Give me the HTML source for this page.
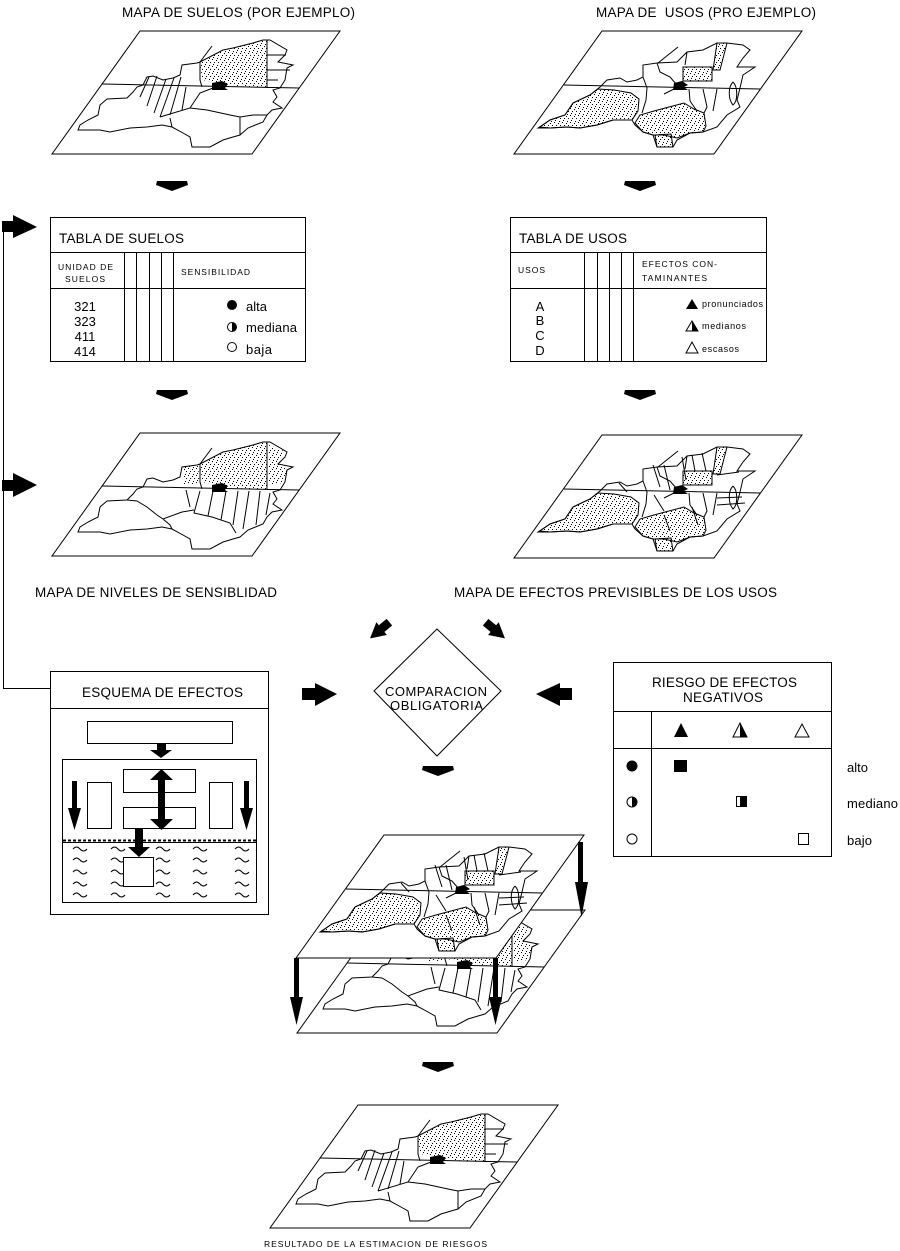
<!DOCTYPE html>
<html><head><meta charset="utf-8">
<style>
html,body{margin:0;padding:0;background:#fff;}
svg{display:block;}
text{font-family:"Liberation Sans",Arial,sans-serif;fill:#000;}
</style></head><body>
<svg width="900" height="1251" viewBox="0 0 900 1251" xmlns="http://www.w3.org/2000/svg" xmlns:xlink="http://www.w3.org/1999/xlink">
<defs>
<pattern id="dots" width="8" height="7" patternUnits="userSpaceOnUse">
 <rect x="0" y="0" width="1" height="1"/>
 <rect x="4" y="1" width="1" height="1"/>
 <rect x="2" y="3" width="1" height="1"/>
 <rect x="6" y="3" width="1" height="1"/>
 <rect x="1" y="5" width="1" height="1"/>
 <rect x="5" y="6" width="1" height="1"/>
</pattern>

<g id="mapS">
 <polygon points="88,0 288,0 200,123 0,123" fill="#fff" stroke="#000"/>
 <path d="M26,99 L28,94 36,89 46,84 48,74 55,68 75,67 81,61 85,56 91,54 95,46 101,45 111,49 121,47 128,44 130,34 145,32 148,31 171,19 181,17 201,12 211,9 218,9 235,19 233,24 226,31 241,34 235,37 233,49 228,57 221,59 225,66 221,71 230,77 220,79 215,84 211,91 196,97 188,104 181,106 171,109 158,116 140,116 138,106 131,102 120,96 110,94 95,96 78,97 58,101 48,99 Z" fill="#fff" stroke="#000"/>
 <path d="M148,31 L171,19 181,17 201,12 211,9 215,9 215,57 200,56 185,55 175,53 162,51 150,49 Z" fill="url(#dots)"/>
 <path d="M50,53 L247,57 M160,15 L148,31 M148,31 L148,49 L150,56 M215,9 L215,57 M215,24 L234,24 M215,39 L238,39 M215,49 L226,49 M88,66 L97,46 M95,75 L105,45 M102,82 L114,48 M108,86 L122,47 M118,84 L129,46 M130,79 L134,56 M108,86 L138,77 L148,62 L161,57 M138,77 L155,79 L178,84 L188,86 L201,84 L215,84 M118,87 L120,96 M188,86 L188,104" fill="none" stroke="#000"/>
 <path d="M160,52 L170,50 L176,53 L173,57 L176,59 L160,59 Z"/>
</g>

<g id="mapB">
 <polygon points="88,0 288,0 200,123 0,123" fill="#fff" stroke="#000"/>
 <path d="M26,99 L28,94 36,89 46,84 48,74 55,68 75,67 81,61 85,56 91,54 95,46 101,45 111,49 121,47 128,44 130,34 145,32 148,31 171,19 181,17 201,12 211,9 218,9 235,19 233,24 226,31 241,34 235,37 233,49 228,57 221,59 225,66 221,71 230,77 220,79 215,84 211,91 196,97 188,104 181,106 171,109 158,116 140,116 138,106 131,102 120,96 110,94 95,96 78,97 58,101 48,99 Z" fill="#fff" stroke="#000"/>
 <path d="M148,31 L171,19 181,17 201,12 211,9 215,9 215,57 200,56 185,55 175,53 162,51 150,49 Z" fill="url(#dots)"/>
 <path d="M131,34 L146,32 L148,52 L132,52 Z" fill="url(#dots)"/>
 <path d="M217,12 L232,18 L228,30 L236,36 L231,50 L217,52 Z" fill="url(#dots)"/>
 <path d="M50,53 L247,57 M160,15 L148,31 M148,31 L148,49 L150,56 M215,9 L215,57 M75,67 L85,68 L95,74 L105,82 L111,86 L130,79 L142,77 M134,57 L138,74 M111,86 L118,92 L120,96 M148,58 L142,80 L160,84 L178,90 L184,100 M161,58 L156,83 M174,58 L169,87 M186,58 L181,92 M197,58 L191,96 M208,58 L204,92 M218,60 L214,82" fill="none" stroke="#000"/>
 <path d="M160,52 L170,50 L176,53 L173,57 L176,59 L160,59 Z"/>
</g>

<g id="mapU">
 <polygon points="88,0 288,0 200,123 0,123" fill="#fff" stroke="#000"/>
 <path d="M24,97 L36,89 51,84 59,72 76,64 86,56 93,49 106,47 113,51 123,49 129,46 129,34 143,32 163,31 173,21 189,19 203,12 213,12 229,14 236,19 229,27 223,36 241,36 229,44 226,57 223,69 226,76 213,84 203,96 189,101 176,102 163,109 159,116 143,116 139,104 129,101 121,94 118,89 99,89 83,94 66,97 53,96 36,97 Z" fill="#fff" stroke="#000"/>
 <path d="M26,96 L36,89 51,84 59,72 76,64 84,58 100,59 117,62 125,68 124,80 118,89 99,89 83,94 66,97 53,96 36,97 Z" fill="url(#dots)" stroke="#000"/>
 <path d="M121,92 L126,84 140,80 155,76 170,72 180,78 190,82 192,95 189,101 176,102 163,107 150,104 139,104 129,101 Z" fill="url(#dots)" stroke="#000"/>
 <path d="M141,104 L157,103 L159,116 L143,116 Z" fill="url(#dots)" stroke="#000"/>
 <path d="M203,12 L213,12 L206,39 L199,39 Z" fill="url(#dots)" stroke="#000"/>
 <path d="M169,36 L198,36 L198,50 L169,50 Z" fill="url(#dots)" stroke="#000"/>
 <path d="M50,54 L246,58 M164,16 L144,32 M129,46 L133,57 L132,69 L128,82 M143,32 L146,41 L156,46 L163,54 M160,58 L150,63 M175,58 L176,70 L183,80 M189,58 L193,76 L190,82 M203,58 L201,69 L199,80 M219,51 C214,56 214,68 219,74 C224,70 224,56 219,51 M171,34 L173,21" fill="none" stroke="#000"/>
 <path d="M160,52 L168,50 L174,54 L170,56 L174,59 L159,59 Z"/>
</g>

<g id="mapE">
 <use xlink:href="#mapU" href="#mapU"/>
 <path d="M139,30 L146,52 M150,30 L156,55 M168,22 L172,45 M178,20 L181,36 M188,18 L192,36 M203,40 L225,37 M203,63 L228,62 M203,70 L231,68 M105,48 L113,57 M140,60 L150,76 M178,72 L184,90 M150,80 L156,96" fill="none" stroke="#000"/>
</g>

<g id="rarr">
 <rect x="-17" y="-6" width="15" height="12"/>
 <polygon points="-3,-11.5 18,0 -3,11.5"/>
</g>

<path id="wave" d="M0,0 q3.5,-4 7,0 t7,0" fill="none" stroke="#000"/>
</defs>

<rect width="900" height="1251" fill="#fff"/>

<!-- titles -->
<text x="122" y="17" font-size="13.5" textLength="233">MAPA DE SUELOS (POR EJEMPLO)</text>
<text x="596" y="17" font-size="13.5" textLength="220" style="white-space:pre">MAPA DE  USOS (PRO EJEMPLO)</text>

<!-- top maps -->
<use xlink:href="#mapS" href="#mapS" transform="translate(52,31)"/>
<use xlink:href="#mapU" href="#mapU" transform="translate(514,31)"/>

<!-- down arrows -->
<polygon points="157,181 187,181 188,185 172,191 156,185"/>
<polygon points="625,181 655,181 656,185 640,191 624,185"/>
<polygon points="157,390 187,390 188,394 172,400 156,394"/>
<polygon points="625,390 655,390 656,394 640,400 624,394"/>
<polygon points="423,766 453,766 454,770 438,776 422,770"/>
<polygon points="423,1062 453,1062 454,1066 438,1072 422,1066"/>

<!-- feedback line and arrows -->
<path d="M3.5,226 L3.5,688.5 L50,688.5" fill="none" stroke="#000"/>
<rect x="2" y="221" width="12" height="11"/>
<polygon points="13,215 37,227 13,238"/>
<rect x="2" y="480" width="12" height="11"/>
<polygon points="13,473 37,485 13,497"/>

<!-- Tabla de suelos -->
<g fill="none" stroke="#000" shape-rendering="crispEdges">
 <rect x="50.5" y="217.5" width="255" height="144"/>
 <path d="M50,252.5 H306 M50,288.5 H306 M124.5,252 V362 M136.5,252 V362 M149.5,252 V362 M161.5,252 V362 M173.5,252 V362"/>
</g>
<text x="59" y="243" font-size="13.5" textLength="125">TABLA DE SUELOS</text>
<text x="58" y="270" font-size="8.5" textLength="55">UNIDAD DE</text>
<text x="65" y="282" font-size="8.5" textLength="40">SUELOS</text>
<text x="181" y="275" font-size="8.5" textLength="69">SENSIBILIDAD</text>
<g font-size="13" text-anchor="middle">
 <text x="85" y="311">321</text>
 <text x="85" y="326">323</text>
 <text x="85" y="341">411</text>
 <text x="85" y="356">414</text>
</g>
<circle cx="232" cy="305" r="5"/>
<circle cx="232" cy="327" r="4.5" fill="#fff" stroke="#000"/>
<path d="M232,322.5 A4.5,4.5 0 0,1 232,331.5 Z"/>
<circle cx="232" cy="347" r="4.5" fill="#fff" stroke="#000"/>
<text x="246" y="311" font-size="13" textLength="21">alta</text>
<text x="246" y="332" font-size="13" textLength="51">mediana</text>
<text x="246" y="354" font-size="13" textLength="26">baja</text>

<!-- Tabla de usos -->
<g fill="none" stroke="#000" shape-rendering="crispEdges">
 <rect x="510.5" y="217.5" width="256" height="144"/>
 <path d="M510,252.5 H767 M510,288.5 H767 M584.5,252 V362 M597.5,252 V362 M609.5,252 V362 M621.5,252 V362 M633.5,252 V362"/>
</g>
<text x="519" y="243" font-size="13.5" textLength="108">TABLA DE USOS</text>
<text x="518" y="273" font-size="8.5" textLength="27">USOS</text>
<text x="642" y="267" font-size="8.5" textLength="75">EFECTOS CON-</text>
<text x="642" y="281" font-size="8.5" textLength="65">TAMINANTES</text>
<g font-size="13" text-anchor="middle">
 <text x="540" y="311">A</text>
 <text x="540" y="325">B</text>
 <text x="540" y="340">C</text>
 <text x="540" y="355">D</text>
</g>
<polygon points="686,309 692,299 698,309"/>
<polygon points="686,331 692,321 698,331" fill="#fff" stroke="#000"/>
<polygon points="692,321 698,331 692,331"/>
<polygon points="686,353 692,342 698,353" fill="#fff" stroke="#000"/>
<text x="702" y="307" font-size="9" textLength="61">pronunciados</text>
<text x="702" y="329" font-size="9" textLength="44">medianos</text>
<text x="702" y="352" font-size="9" textLength="37">escasos</text>

<!-- middle maps -->
<use xlink:href="#mapB" href="#mapB" transform="translate(52,433)"/>
<use xlink:href="#mapE" href="#mapE" transform="translate(514,435)"/>
<text x="35" y="597" font-size="13.5" textLength="242">MAPA DE NIVELES DE SENSIBLIDAD</text>
<text x="454" y="597" font-size="13.5" textLength="323">MAPA DE EFECTOS PREVISIBLES DE LOS USOS</text>

<!-- diagonal arrows -->
<use xlink:href="#rarr" href="#rarr" transform="translate(380,630) rotate(140) scale(0.72)"/>
<use xlink:href="#rarr" href="#rarr" transform="translate(495,630) rotate(40) scale(0.72)"/>

<!-- diamond -->
<polygon points="437,629 501,691 437,756 374,691" fill="none" stroke="#000"/>
<text x="385" y="696" font-size="13" textLength="102">COMPARACION</text>
<text x="390" y="710" font-size="13" textLength="93">OBLIGATORIA</text>

<!-- arrows into diamond -->
<rect x="302" y="688" width="14" height="12"/>
<polygon points="315,683 337,694 315,706"/>
<polygon points="536,694 560,683 560,706"/>
<rect x="559" y="688" width="13" height="12"/>

<!-- Esquema de efectos -->
<g fill="none" stroke="#000" shape-rendering="crispEdges">
 <rect x="50.5" y="671.5" width="218" height="243"/>
 <path d="M50,708.5 H269"/>
 <rect x="87.5" y="721.5" width="145" height="22"/>
 <rect x="62.5" y="759.5" width="194" height="143"/>
 <rect x="87.5" y="782.5" width="24" height="46"/>
 <rect x="209.5" y="782.5" width="23" height="46"/>
 <rect x="123.5" y="769.5" width="72" height="23"/>
 <rect x="123.5" y="807.5" width="72" height="21"/>
 <path d="M62,842.5 H257"/>
</g>
<path d="M63,840.5 H256" stroke="#000" stroke-width="2" stroke-dasharray="3,2"/>
<text x="82" y="697" font-size="13.5" textLength="161">ESQUEMA DE EFECTOS</text>
<rect x="157" y="744" width="9" height="6"/>
<polygon points="150,750 172,750 161,758"/>
<rect x="158" y="778" width="7" height="43"/>
<polygon points="150,780 161.5,769 173,780"/>
<polygon points="150,819 161.5,830 173,819"/>
<rect x="72" y="781" width="5" height="27"/>
<polygon points="68,808 81,808 74.5,830"/>
<rect x="244" y="781" width="5" height="27"/>
<polygon points="240,808 253,808 246.5,830"/>
<g>
 <use xlink:href="#wave" href="#wave" x="73" y="849"/><use xlink:href="#wave" href="#wave" x="111" y="849"/><use xlink:href="#wave" href="#wave" x="156" y="849"/><use xlink:href="#wave" href="#wave" x="193" y="849"/><use xlink:href="#wave" href="#wave" x="235" y="849"/>
 <use xlink:href="#wave" href="#wave" x="73" y="860"/><use xlink:href="#wave" href="#wave" x="111" y="860"/><use xlink:href="#wave" href="#wave" x="156" y="860"/><use xlink:href="#wave" href="#wave" x="193" y="860"/><use xlink:href="#wave" href="#wave" x="235" y="860"/>
 <use xlink:href="#wave" href="#wave" x="73" y="872"/><use xlink:href="#wave" href="#wave" x="111" y="872"/><use xlink:href="#wave" href="#wave" x="156" y="872"/><use xlink:href="#wave" href="#wave" x="193" y="872"/><use xlink:href="#wave" href="#wave" x="235" y="872"/>
 <use xlink:href="#wave" href="#wave" x="73" y="884"/><use xlink:href="#wave" href="#wave" x="111" y="884"/><use xlink:href="#wave" href="#wave" x="156" y="884"/><use xlink:href="#wave" href="#wave" x="193" y="884"/><use xlink:href="#wave" href="#wave" x="235" y="884"/>
 <use xlink:href="#wave" href="#wave" x="73" y="895"/><use xlink:href="#wave" href="#wave" x="111" y="895"/><use xlink:href="#wave" href="#wave" x="156" y="895"/><use xlink:href="#wave" href="#wave" x="193" y="895"/><use xlink:href="#wave" href="#wave" x="235" y="895"/>
</g>
<rect x="123.5" y="857.5" width="30" height="29" fill="#fff" stroke="#000" shape-rendering="crispEdges"/>
<rect x="135" y="829" width="8" height="18"/>
<polygon points="128,847 150,847 139,857"/>

<!-- Riesgo table -->
<g fill="none" stroke="#000" shape-rendering="crispEdges">
 <rect x="613.5" y="662.5" width="218" height="194"/>
 <path d="M613,711.5 H832 M613,748.5 H832 M651.5,711 V857"/>
</g>
<text x="652" y="687" font-size="13.5" textLength="145">RIESGO DE EFECTOS</text>
<text x="683" y="702" font-size="13.5" textLength="80">NEGATIVOS</text>
<polygon points="674,737 681,723 688,737"/>
<polygon points="733,737 740,723 747,737" fill="#fff" stroke="#000"/>
<polygon points="740,723 747,737 740,737"/>
<polygon points="795,737 802,724 809,737" fill="#fff" stroke="#000"/>
<circle cx="632" cy="766" r="5.5"/>
<circle cx="632" cy="802" r="5" fill="#fff" stroke="#000"/>
<path d="M632,797 A5,5 0 0,1 632,807 Z"/>
<circle cx="632" cy="839" r="5" fill="#fff" stroke="#000"/>
<rect x="674" y="760" width="13" height="12"/>
<rect x="736.5" y="796.5" width="10" height="10" fill="#fff" stroke="#000"/>
<rect x="740" y="796" width="7" height="11"/>
<rect x="798.5" y="833.5" width="10" height="11" fill="#fff" stroke="#000"/>
<text x="847" y="772" font-size="13" textLength="21">alto</text>
<text x="847" y="808" font-size="13" textLength="51">mediano</text>
<text x="847" y="845" font-size="13" textLength="25">bajo</text>

<!-- stacked maps -->
<use xlink:href="#mapB" href="#mapB" transform="translate(297,910)"/>
<use xlink:href="#mapE" href="#mapE" transform="translate(296,835)"/>
<rect x="578" y="842" width="5" height="40"/>
<polygon points="575,882 588,882 581.5,917"/>
<rect x="294" y="958" width="5" height="39"/>
<polygon points="290,997 303,997 296.5,1025"/>
<rect x="493" y="958" width="5" height="39"/>
<polygon points="489,997 502,997 495.5,1025"/>

<!-- result map -->
<use xlink:href="#mapS" href="#mapS" transform="translate(270,1105)"/>
<text x="264" y="1247" font-size="8.5" textLength="223">RESULTADO DE LA ESTIMACION DE RIESGOS</text>
</svg>
</body></html>
